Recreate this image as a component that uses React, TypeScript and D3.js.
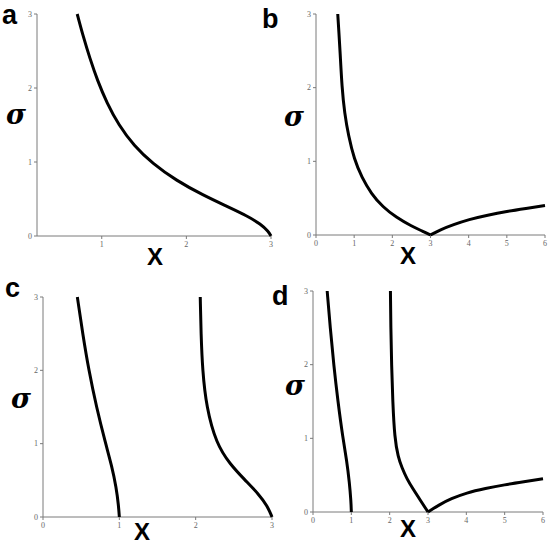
import React from "react";
import * as d3 from "d3";

type Pt = [number, number];

// Panel a
const aCurve: Pt[] = [
  [0.71, 3.0], [0.78, 2.7], [0.86, 2.4], [0.95, 2.1], [1.06, 1.8],
  [1.2, 1.5], [1.38, 1.22], [1.6, 0.98], [1.88, 0.75], [2.2, 0.55],
  [2.48, 0.4], [2.72, 0.27], [2.88, 0.16], [2.97, 0.06], [3.0, 0.0],
];
// Panel b
const bLeft: Pt[] = [
  [0.57, 3.0], [0.6, 2.75], [0.63, 2.5], [0.68, 2.0], [0.75, 1.65],
  [0.85, 1.35], [1.0, 1.03], [1.2, 0.78], [1.45, 0.56], [1.75, 0.38],
  [2.1, 0.24], [2.5, 0.12], [2.8, 0.05], [3.0, 0.0],
];
const bRight: Pt[] = [
  [3.0, 0.0], [3.25, 0.07], [3.6, 0.14], [4.0, 0.21], [4.5, 0.27],
  [5.0, 0.32], [5.5, 0.36], [6.0, 0.4],
];
// Panel c
const cCurve1: Pt[] = [
  [0.45, 3.0], [0.52, 2.5], [0.6, 2.0], [0.7, 1.5], [0.82, 1.0],
  [0.9, 0.7], [0.96, 0.4], [0.99, 0.15], [1.0, 0.0],
];
const cCurve2: Pt[] = [
  [2.06, 3.0], [2.07, 2.5], [2.09, 2.0], [2.14, 1.5], [2.27, 1.0],
  [2.45, 0.72], [2.65, 0.5], [2.82, 0.32], [2.94, 0.15], [3.0, 0.0],
];
// Panel d
const dCurve1: Pt[] = [
  [0.37, 3.0], [0.45, 2.5], [0.54, 2.0], [0.65, 1.5], [0.78, 1.0],
  [0.88, 0.7], [0.95, 0.4], [0.99, 0.15], [1.0, 0.0],
];
const dCurve2: Pt[] = [
  [2.02, 3.0], [2.03, 2.5], [2.05, 2.0], [2.08, 1.5], [2.13, 1.0],
  [2.22, 0.75], [2.32, 0.6], [2.45, 0.45], [2.6, 0.32], [2.8, 0.16], [3.0, 0.0],
];
const dRight: Pt[] = [
  [3.0, 0.0], [3.3, 0.1], [3.6, 0.18], [4.0, 0.26], [4.5, 0.32],
  [5.0, 0.37], [5.5, 0.41], [6.0, 0.45],
];

const yTicks = [0, 1, 2, 3];
const xTicksA = [1, 2, 3];
const xTicksB = [0, 1, 2, 3, 4, 5, 6];
const xTicksC = [0, 1, 2, 3];

interface PanelProps {
  letter: string;
  letterPos: Pt;
  sigmaPos: Pt;
  xLabelPos: Pt;
  xDomain: [number, number];
  xRange: [number, number];
  yRange: [number, number];
  xTicks: number[];
  curves: Pt[][];
}

const Panel: React.FC<PanelProps> = ({
  letter, letterPos, sigmaPos, xLabelPos, xDomain, xRange, yRange, xTicks, curves,
}) => {
  const x = d3.scaleLinear().domain(xDomain).range(xRange);
  const y = d3.scaleLinear().domain([0, 3]).range(yRange);
  const line = d3
    .line<Pt>()
    .x((d) => x(d[0]))
    .y((d) => y(d[1]))
    .curve(d3.curveBasis);
  const axisColor = "#7a7a7a";
  const x0 = xRange[0];
  const y0 = yRange[0];
  return (
    <g>
      <line x1={x0} x2={x0} y1={yRange[0]} y2={yRange[1]} stroke={axisColor} strokeWidth={1} />
      <line x1={xRange[0]} x2={xRange[1]} y1={y0} y2={y0} stroke={axisColor} strokeWidth={1} />
      {yTicks.map((t) => (
        <g key={"y" + t}>
          <line x1={x0 - 3} x2={x0} y1={y(t)} y2={y(t)} stroke={axisColor} />
          <text
            x={x0 - 5}
            y={y(t) + 2.5}
            textAnchor="end"
            fontFamily="Liberation Serif, serif"
            fontSize={8}
            fill="#666"
          >
            {t}
          </text>
        </g>
      ))}
      {xTicks.map((t) => (
        <g key={"x" + t}>
          <line x1={x(t)} x2={x(t)} y1={y0} y2={y0 + 3} stroke={axisColor} />
          <text
            x={x(t)}
            y={y0 + 11}
            textAnchor="middle"
            fontFamily="Liberation Serif, serif"
            fontSize={8}
            fill="#666"
          >
            {t}
          </text>
        </g>
      ))}
      {curves.map((c, i) => (
        <path
          key={i}
          d={line(c) || ""}
          fill="none"
          stroke="#000"
          strokeWidth={3}
          strokeLinecap="butt"
          strokeLinejoin="round"
        />
      ))}
      <text
        x={letterPos[0]}
        y={letterPos[1]}
        fontFamily="Liberation Sans, Arial, sans-serif"
        fontWeight="bold"
        fontSize={27}
        fill="#000"
      >
        {letter}
      </text>
      <text
        x={sigmaPos[0]}
        y={sigmaPos[1]}
        fontFamily="DejaVu Serif, serif"
        fontWeight="bold"
        fontStyle="italic"
        fontSize={27}
        fill="#000"
      >
        σ
      </text>
      <text
        x={xLabelPos[0]}
        y={xLabelPos[1]}
        fontFamily="Liberation Sans, Arial, sans-serif"
        fontWeight="bold"
        fontSize={24}
        fill="#000"
        textAnchor="middle"
      >
        X
      </text>
    </g>
  );
};

export default function App() {
  return (
    <svg
      width={550}
      height={544}
      style={{ position: "absolute", left: 0, top: 0, background: "#fff" }}
    >
      <rect width={550} height={544} fill="#fff" />
      <Panel
        letter="a"
        letterPos={[2, 24]}
        sigmaPos={[6, 124]}
        xLabelPos={[155, 265]}
        xDomain={[0.235, 3]}
        xRange={[37, 271]}
        yRange={[236, 14]}
        xTicks={xTicksA}
        curves={[aCurve]}
      />
      <Panel
        letter="b"
        letterPos={[262, 28]}
        sigmaPos={[284, 126]}
        xLabelPos={[408, 264]}
        xDomain={[0, 6]}
        xRange={[316, 545]}
        yRange={[235, 14]}
        xTicks={xTicksB}
        curves={[bLeft, bRight]}
      />
      <Panel
        letter="c"
        letterPos={[5, 297]}
        sigmaPos={[11, 408]}
        xLabelPos={[142, 540]}
        xDomain={[0, 3]}
        xRange={[43, 272]}
        yRange={[517, 297]}
        xTicks={xTicksC}
        curves={[cCurve1, cCurve2]}
      />
      <Panel
        letter="d"
        letterPos={[272, 305]}
        sigmaPos={[285, 395]}
        xLabelPos={[408, 537]}
        xDomain={[0, 6]}
        xRange={[313, 543]}
        yRange={[512, 291]}
        xTicks={xTicksB}
        curves={[dCurve1, dCurve2, dRight]}
      />
    </svg>
  );
}
